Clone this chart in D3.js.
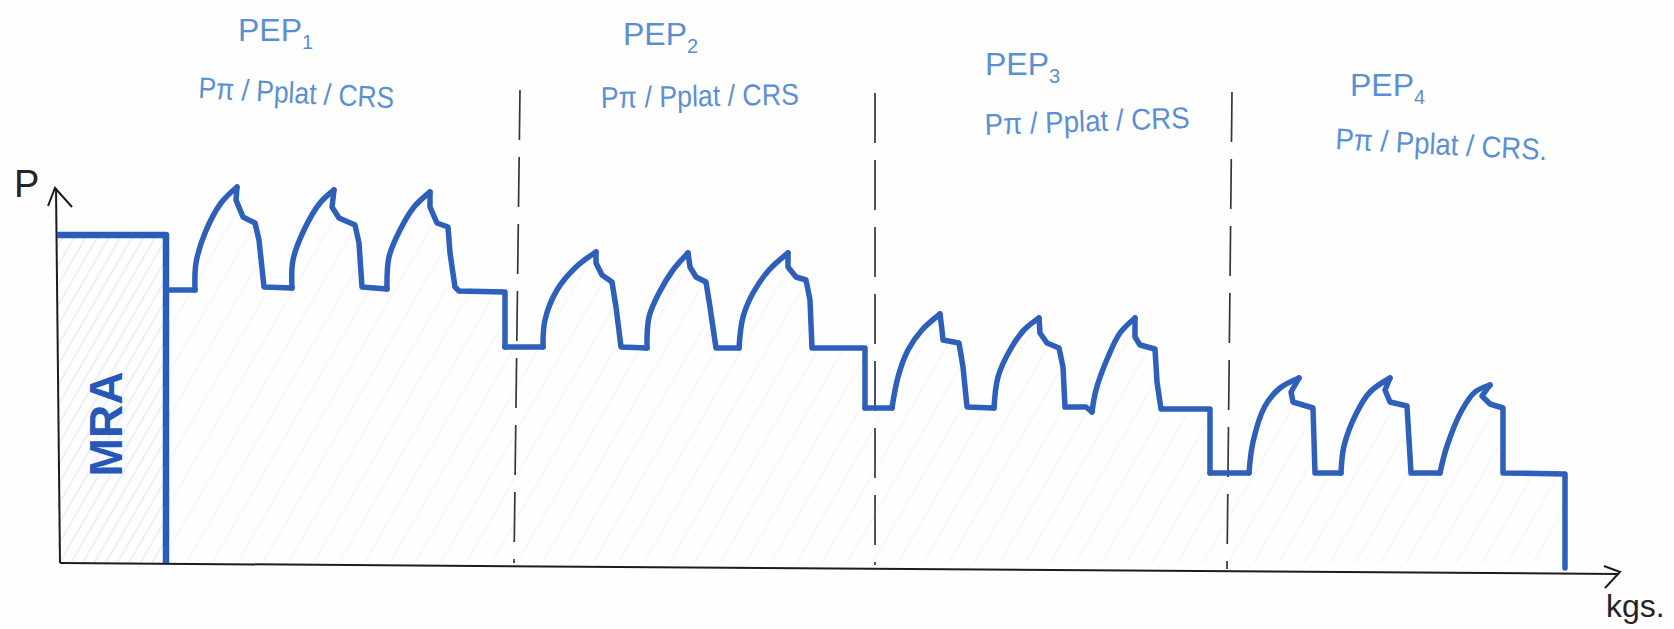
<!DOCTYPE html>
<html>
<head>
<meta charset="utf-8">
<script src="https://cdn.jsdelivr.net/npm/d3@7"></script>
<style>
  html, body { margin: 0; padding: 0; background: #fefefe; }
  svg { display: block; }
</style>
</head>
<body>
<div class="sketch"></div>
<script>
// pressure trace (t = time, p = pressure, arbitrary units)
var mraT = [-3, 106, 106];
var mraP = [328, 328, 0];

var pep1T = [108,135,136,145,161,177,176,183,195,199,204,232,233,244,260,274,272,279,295,299,302,327,329,340,354,370,370,377,388,390,395,399,445,445];
var pep1P = [273,273,300,330,360,376,363,346,340,323,276,275,303,333,360,373,356,345,338,320,276,274,306,333,356,371,356,340,336,310,276,272,271,216];

var pep2T = [445,483,485,497,516,536,536,542,552,556,561,587,589,599,613,628,630,636,646,650,656,679,683,693,709,728,728,736,746,750,752,805,805];
var pep2P = [216,216,243,273,296,311,300,288,281,256,216,215,246,270,293,310,296,286,281,256,215,215,246,270,293,310,296,286,283,263,215,215,155];

var pep3T = [805,832,838,848,862,880,882,883,899,903,907,934,938,950,964,979,980,987,999,1003,1005,1026,1032,1036,1048,1060,1075,1075,1080,1095,1097,1101,1150,1150];
var pep3P = [155,155,186,213,233,249,233,223,220,196,156,155,186,213,233,245,230,220,215,196,156,156,151,173,206,230,245,226,218,214,181,154,154,90];

var pep4T = [1150,1189,1193,1205,1220,1239,1231,1233,1253,1255,1281,1284,1296,1310,1330,1325,1330,1347,1351,1380,1387,1402,1415,1430,1422,1430,1443,1443,1505,1505];
var pep4P = [90,90,121,157,175,185,171,161,155,90,90,117,149,171,185,173,161,157,90,90,117,153,171,178,167,159,155,90,89,-5];

// hand drawn axes and phase dividers
var axisXT = [0, 1558];
var axisXP = [0, -11];
var axisYT = [0, -4];
var axisYP = [0, 375];
var arrowXT = [1544, 1560, 1545];
var arrowXP = [-3, -9, -25];
var arrowYT = [-12, -5, 12];
var arrowYP = [357, 375, 356];
var dividerTopT = [460, 815, 1172];
var dividerBottomT = [454, 815, 1167];
var dividerTopP = [473, 470, 471];
var dividerBottomP = [0, -2, -6];

var phaseNames = ["PEP", "PEP", "PEP", "PEP"];
var phaseNums = ["1", "2", "3", "4"];
var phaseNameT = [178, 563, 925, 1290];
var phaseNameP = [522, 518, 488, 467];
var modeLabels = ["Pπ / Pplat / CRS", "Pπ / Pplat / CRS", "Pπ / Pplat / CRS", "Pπ / Pplat / CRS."];
var modeLabelT = [138, 541, 925, 1275];
var modeLabelP = [465, 455, 428, 414];
var modeLabelTilt = [3, -1, -2, 3];
var modeLabelLen = [196, 198, 205, 212];

var width = 1674;
var height = 629;

var x = d3.scaleLinear().domain([0, 1614]).range([60, 1674]);
var y = d3.scaleLinear().domain([0, 563]).range([563, 0]);

function zipSeries(ts, ps) {
  return ts.map(function(t, i) { return { t: t, p: ps[i] }; });
}

// cut a trace into its rising arcs and the straight bits between them
function splitRuns(series) {
  var runs = [];
  var run = [series[0]];
  var rising = series[1].p > series[0].p;
  for (var i = 1; i < series.length; i++) {
    var up = series[i].p > series[i - 1].p;
    if (up !== rising) {
      runs.push({ rising: rising, points: run });
      run = [series[i - 1]];
      rising = up;
    }
    run.push(series[i]);
  }
  runs.push({ rising: rising, points: run });
  return runs;
}

var svg = d3.select(".sketch").append("svg")
  .attr("width", width)
  .attr("height", height);

// faint pencil hatching
var defs = svg.append("defs");
function hatch(id, color, gap) {
  var pat = defs.append("pattern")
    .attr("id", id)
    .attr("patternUnits", "userSpaceOnUse")
    .attr("width", gap)
    .attr("height", gap)
    .attr("patternTransform", "rotate(30)");
  pat.append("line")
    .attr("x1", 3).attr("x2", 3).attr("y1", 0).attr("y2", gap)
    .attr("stroke", color)
    .attr("stroke-width", 1.6);
}
hatch("hatchMra", "#e9eef5", 10);
hatch("hatchPep", "#f5f6f8", 22);

var area = d3.area()
  .x(function(d) { return x(d.t); })
  .y0(y(0))
  .y1(function(d) { return y(d.p); });

var arc = d3.line()
  .x(function(d) { return x(d.t); })
  .y(function(d) { return y(d.p); })
  .curve(d3.curveCatmullRom.alpha(0.5));

var straight = d3.line()
  .x(function(d) { return x(d.t); })
  .y(function(d) { return y(d.p); });

var mraData = zipSeries(mraT, mraP);
var pepData = [zipSeries(pep1T, pep1P), zipSeries(pep2T, pep2P), zipSeries(pep3T, pep3P), zipSeries(pep4T, pep4P)];

svg.append("path")
  .attr("d", area(mraData))
  .attr("fill", "url(#hatchMra)");

pepData.forEach(function(series) {
  svg.append("path")
    .attr("d", area(series))
    .attr("fill", "url(#hatchPep)");
});

// dividers
dividerTopT.forEach(function(t, i) {
  svg.append("path")
    .attr("d", straight([{ t: t, p: dividerTopP[i] }, { t: dividerBottomT[i], p: dividerBottomP[i] }]))
    .attr("fill", "none")
    .attr("stroke", "#33373d")
    .attr("stroke-width", 1.7)
    .style("stroke-dasharray", "50, 17");
});

// axes
[[axisXT, axisXP], [axisYT, axisYP], [arrowXT, arrowXP], [arrowYT, arrowYP]].forEach(function(a) {
  svg.append("path")
    .attr("d", straight(zipSeries(a[0], a[1])))
    .attr("fill", "none")
    .attr("stroke", "#1b1c20")
    .attr("stroke-width", 2);
});

// trace
svg.append("path")
  .attr("d", straight(mraData))
  .attr("fill", "none")
  .attr("stroke", "#2a5cb9")
  .attr("stroke-width", 6.5)
  .attr("stroke-linejoin", "round");

pepData.forEach(function(series) {
  splitRuns(series).forEach(function(run) {
    svg.append("path")
      .attr("d", run.rising && run.points.length > 3 ? arc(run.points) : straight(run.points))
      .attr("fill", "none")
      .attr("stroke", "#2d5fbb")
      .attr("stroke-width", 5.5)
      .attr("stroke-linejoin", "round")
      .attr("stroke-linecap", "round");
  });
});

// labels
var penFont = "'Liberation Sans', sans-serif";

phaseNames.forEach(function(name, i) {
  var label = svg.append("text")
    .attr("x", x(phaseNameT[i]))
    .attr("y", y(phaseNameP[i]))
    .attr("font-family", penFont)
    .attr("font-size", 32)
    .attr("fill", "#5a90d2")
    .text(name);
  label.append("tspan")
    .attr("dy", 8)
    .attr("font-size", 20)
    .text(phaseNums[i]);
});

modeLabels.forEach(function(name, i) {
  svg.append("text")
    .attr("transform", "translate(" + x(modeLabelT[i]) + "," + y(modeLabelP[i]) + ") rotate(" + modeLabelTilt[i] + ")")
    .attr("font-family", penFont)
    .attr("font-size", 30)
    .attr("fill", "#5a90d2")
    .attr("textLength", modeLabelLen[i])
    .attr("lengthAdjust", "spacingAndGlyphs")
    .text(name);
});

svg.append("text")
  .attr("transform", "translate(" + x(62) + "," + y(139) + ") rotate(-90)")
  .attr("text-anchor", "middle")
  .attr("font-family", "'Liberation Sans', sans-serif")
  .attr("font-weight", "bold")
  .attr("font-size", 46)
  .attr("fill", "#2658b8")
  .text("MRA");

svg.append("text")
  .attr("x", x(-46))
  .attr("y", y(366))
  .attr("font-family", penFont)
  .attr("font-size", 38)
  .attr("fill", "#222428")
  .text("P");

svg.append("text")
  .attr("x", x(1546))
  .attr("y", y(-54))
  .attr("font-family", penFont)
  .attr("font-size", 32)
  .attr("fill", "#222428")
  .text("kgs.");
</script>
</body>
</html>
